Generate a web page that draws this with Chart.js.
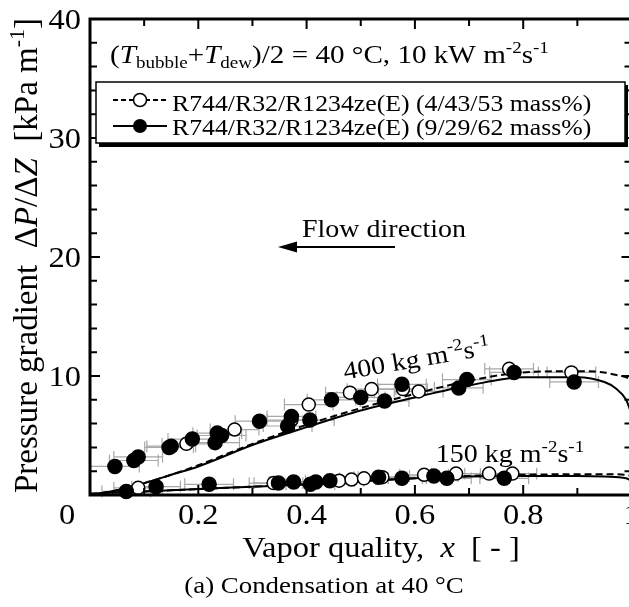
<!DOCTYPE html>
<html>
<head>
<meta charset="utf-8">
<script src="https://cdn.jsdelivr.net/npm/chart.js@4.4.1/dist/chart.umd.min.js"></script>
<style>
  html, body { margin: 0; padding: 0; background: #fff; overflow: hidden; }
  #wrap { position: relative; width: 640px; height: 607px; }
  #probe { position: absolute; left: -999px; top: 0; font-family: 'Liberation Serif'; font-size: 20px; }
  #probe i { font-style: italic; }
</style>
</head>
<body>
<div id="probe">Flow <i>x</i></div>
<div id="wrap"><canvas id="dpChart"></canvas></div>
<script>
// Assi e tacche
const X_TICKS = [0.2, 0.4, 0.6, 0.8, 1];
const Y_TICKS = [10, 20, 30, 40];

// Curve di previsione (x comune)
const LINE400_X = [0, 0.05, 0.1, 0.15, 0.2, 0.3, 0.4, 0.5, 0.6, 0.7, 0.8, 0.9, 0.95, 0.97, 0.99, 1.0];
const SOLID400_Y = [0, 0.4, 1.0, 1.7, 2.4, 4.2, 5.7, 7.1, 8.2, 9.2, 9.9, 9.9, 9.5, 9.0, 8.0, 6.8];
const DASHED400_Y = [0, 0.4, 1.0, 1.7, 2.5, 4.3, 5.9, 7.3, 8.5, 9.6, 10.3, 10.4, 10.3, 10.1, 9.9, 9.7];

const LINE150_X = [0, 0.05, 0.1, 0.2, 0.3, 0.4, 0.5, 0.6, 0.7, 0.8, 0.9, 0.95, 0.99, 1.0];
const SOLID150_Y = [0.1, 0.2, 0.3, 0.5, 0.7, 0.9, 1.15, 1.4, 1.55, 1.6, 1.6, 1.55, 1.4, 1.2];
const DASHED150_Y = [0.1, 0.2, 0.3, 0.5, 0.7, 0.9, 1.15, 1.4, 1.6, 1.7, 1.75, 1.75, 1.7, 1.6];

// Dati sperimentali: (4/43/53) cerchi vuoti, (9/29/62) cerchi pieni
const OPEN400_X = [0.178, 0.267, 0.372, 0.404, 0.48, 0.52, 0.578, 0.607, 0.774, 0.889];
const OPEN400_Y = [4.3, 5.5, 6.3, 7.6, 8.6, 8.9, 8.9, 8.7, 10.6, 10.3];
const FILLED400_X = [0.046, 0.081, 0.089, 0.146, 0.15, 0.189, 0.231, 0.235, 0.243, 0.313, 0.365, 0.372, 0.406, 0.446, 0.5, 0.544, 0.576, 0.681, 0.696, 0.783, 0.894];
const FILLED400_Y = [2.4, 2.9, 3.2, 4.0, 4.1, 4.7, 4.4, 5.2, 5.0, 6.2, 5.8, 6.6, 6.3, 8.0, 8.2, 7.9, 9.3, 9.0, 9.7, 10.3, 9.5];

const OPEN150_X = [0.089, 0.339, 0.46, 0.483, 0.506, 0.54, 0.617, 0.676, 0.737, 0.78];
const OPEN150_Y = [0.6, 1.0, 1.2, 1.3, 1.4, 1.5, 1.7, 1.8, 1.8, 1.8];
const FILLED150_X = [0.067, 0.122, 0.22, 0.348, 0.376, 0.407, 0.417, 0.443, 0.533, 0.576, 0.635, 0.659, 0.765];
const FILLED150_Y = [0.3, 0.7, 0.9, 1.0, 1.1, 0.9, 1.1, 1.2, 1.5, 1.4, 1.6, 1.4, 1.4];

// Incertezza di misura
const X_ERR = 0.045;
const Y_ERR = 0.5;

const FONT = "'Liberation Serif', 'Times New Roman', Times, serif";
const SX = 1.12; // la figura originale e' leggermente allargata in orizzontale

function toPoints(xs, ys) {
    return xs.map((x, i) => ({ x: x, y: ys[i] }));
}

function fontOf(size, italic) {
    return (italic ? 'italic ' : '') + Math.round(size) + 'px ' + FONT;
}

/**
 * Disegna un testo con pedici/apici
 */
function drawRich(ctx, segs, x, y, size, opt) {
    opt = opt || {};
    ctx.save();
    ctx.translate(x, y);
    if (opt.angle) ctx.rotate(opt.angle);
    ctx.scale(opt.sx || SX, opt.sy || 1);
    let w = 0;
    segs.forEach(s => {
        ctx.font = fontOf(s.sub || s.sup ? size * 0.68 : size, s.it);
        w += ctx.measureText(s.t).width;
    });
    let cx = opt.align === 'center' ? -w / 2 : opt.align === 'right' ? -w : 0;
    ctx.fillStyle = '#000';
    ctx.textAlign = 'left';
    ctx.textBaseline = 'alphabetic';
    segs.forEach(s => {
        ctx.font = fontOf(s.sub || s.sup ? size * 0.68 : size, s.it);
        const dy = s.sub ? size * 0.2 : s.sup ? -size * 0.4 : 0;
        ctx.fillText(s.t, cx, dy);
        cx += ctx.measureText(s.t).width;
    });
    ctx.restore();
}

// Barre d'errore grigie sotto i punti
const errorBars = {
    id: 'errorBars',
    beforeDatasetsDraw(chart) {
        const ctx = chart.ctx;
        const xs = chart.scales.x, ys = chart.scales.y;
        ctx.save();
        ctx.strokeStyle = '#a8a8a8';
        ctx.lineWidth = 1.2;
        chart.data.datasets.forEach(ds => {
            if (!ds.errorBars) return;
            ds.data.forEach(p => {
                const px = xs.getPixelForValue(p.x), py = ys.getPixelForValue(p.y);
                const x1 = xs.getPixelForValue(p.x - X_ERR), x2 = xs.getPixelForValue(p.x + X_ERR);
                const y1 = ys.getPixelForValue(p.y - Y_ERR), y2 = ys.getPixelForValue(p.y + Y_ERR);
                ctx.beginPath();
                ctx.moveTo(x1, py); ctx.lineTo(x2, py);
                ctx.moveTo(px, y1); ctx.lineTo(px, y2);
                ctx.moveTo(x1, y1); ctx.lineTo(x1, y2);
                ctx.moveTo(x2, y1); ctx.lineTo(x2, y2);
                ctx.stroke();
            });
        });
        ctx.restore();
    }
};

// Cornice, tacche interne, etichette e annotazioni
const decorations = {
    id: 'decorations',
    afterDraw(chart) {
        const ctx = chart.ctx;
        const xs = chart.scales.x, ys = chart.scales.y;
        const a = chart.chartArea;
        ctx.save();
        ctx.strokeStyle = '#000';
        ctx.fillStyle = '#000';

        // tacche
        ctx.lineWidth = 2;
        ctx.beginPath();
        for (let k = 1; k < 10; k++) {
            const px = xs.getPixelForValue(k / 10);
            const len = k % 2 === 0 ? 10 : 7;
            ctx.moveTo(px, a.bottom); ctx.lineTo(px, a.bottom - len);
            ctx.moveTo(px, a.top); ctx.lineTo(px, a.top + len);
        }
        for (let v = 2; v < 40; v += 2) {
            const py = ys.getPixelForValue(v);
            const len = v % 10 === 0 ? 10 : 7;
            ctx.moveTo(a.left, py); ctx.lineTo(a.left + len, py);
            ctx.moveTo(a.right, py); ctx.lineTo(a.right - len, py);
        }
        ctx.stroke();

        // cornice
        ctx.lineWidth = 3;
        ctx.strokeRect(a.left, a.top, a.right - a.left, a.bottom - a.top);

        // etichette delle tacche
        X_TICKS.forEach(v => {
            drawRich(ctx, [{ t: String(v) }], xs.getPixelForValue(v), a.bottom + 29, 29, { align: 'center' });
        });
        drawRich(ctx, [{ t: '0' }], xs.getPixelForValue(0) - 23, a.bottom + 29, 29, { align: 'center' });
        Y_TICKS.forEach(v => {
            drawRich(ctx, [{ t: String(v) }], a.left - 9, ys.getPixelForValue(v) + 10, 29, { align: 'right' });
        });

        // titoli degli assi
        drawRich(ctx, [
            { t: 'Vapor quality,  ' }, { t: 'x', it: true }, { t: '  [ - ]' }
        ], 381, 557, 29, { align: 'center' });
        drawRich(ctx, [
            { t: 'Pressure gradient  \u0394' }, { t: 'P', it: true }, { t: '/\u0394' }, { t: 'Z', it: true },
            { t: '  [kPa m' }, { t: '-1', sup: true }, { t: ']' }
        ], 37, 493, 33, { angle: -Math.PI / 2, sx: 1, sy: 1 });
        drawRich(ctx, [{ t: '(a) Condensation at 40 \u00b0C' }], 324, 593, 23.5, { align: 'center' });

        // intestazione
        drawRich(ctx, [
            { t: '(' }, { t: 'T', it: true }, { t: 'bubble', sub: true }, { t: '+' },
            { t: 'T', it: true }, { t: 'dew', sub: true },
            { t: ')/2 = 40 \u00b0C, 10 kW m' }, { t: '-2', sup: true }, { t: 's' }, { t: '-1', sup: true }
        ], 110, 63, 25.5);

        // legenda
        ctx.fillRect(99, 85, 529, 62);
        ctx.fillStyle = '#fff';
        ctx.fillRect(96, 82, 529, 61);
        ctx.lineWidth = 1.5;
        ctx.strokeRect(96, 82, 529, 61);
        ctx.lineWidth = 1.8;
        ctx.setLineDash([5, 3]);
        ctx.beginPath(); ctx.moveTo(113, 100); ctx.lineTo(167, 100); ctx.stroke();
        ctx.setLineDash([]);
        ctx.beginPath(); ctx.moveTo(113, 126); ctx.lineTo(167, 126); ctx.stroke();
        ctx.lineWidth = 1.5;
        ctx.fillStyle = '#fff';
        ctx.beginPath(); ctx.arc(140, 100, 6.5, 0, Math.PI * 2); ctx.fill(); ctx.stroke();
        ctx.fillStyle = '#000';
        ctx.beginPath(); ctx.arc(140, 126, 7, 0, Math.PI * 2); ctx.fill();
        drawRich(ctx, [{ t: 'R744/R32/R1234ze(E) (4/43/53 mass%)' }], 172, 111, 23);
        drawRich(ctx, [{ t: 'R744/R32/R1234ze(E) (9/29/62 mass%)' }], 172, 135, 23);

        // direzione del flusso
        drawRich(ctx, [{ t: 'Flow direction' }], 302, 237, 25);
        ctx.lineWidth = 1.8;
        ctx.beginPath(); ctx.moveTo(294, 247); ctx.lineTo(395, 247); ctx.stroke();
        ctx.beginPath();
        ctx.moveTo(278, 247); ctx.lineTo(297, 241.5); ctx.lineTo(297, 252.5); ctx.closePath();
        ctx.fill();

        // etichette delle curve
        drawRich(ctx, [
            { t: '400 kg m' }, { t: '-2', sup: true }, { t: 's' }, { t: '-1', sup: true }
        ], 418, 367, 24.5, { align: 'center', angle: -0.17 });
        drawRich(ctx, [
            { t: '150 kg m' }, { t: '-2', sup: true }, { t: 's' }, { t: '-1', sup: true }
        ], 510, 462, 25, { align: 'center' });

        ctx.restore();
    }
};

function lineSet(xs, ys, dashed) {
    return {
        type: 'line',
        data: toPoints(xs, ys),
        borderColor: '#000',
        borderWidth: 2,
        borderDash: dashed ? [7, 4] : [],
        pointRadius: 0,
        fill: false,
        cubicInterpolationMode: 'monotone',
        order: 3
    };
}

function pointSet(xs, ys, filled) {
    return {
        type: 'scatter',
        data: toPoints(xs, ys),
        backgroundColor: filled ? '#000' : '#fff',
        borderColor: '#000',
        borderWidth: 1.5,
        pointRadius: filled ? 7 : 6.5,
        errorBars: true,
        clip: false,
        order: filled ? 1 : 2
    };
}

function createChart() {
    new Chart(document.getElementById('dpChart'), {
        data: {
            datasets: [
                lineSet(LINE400_X, DASHED400_Y, true),
                lineSet(LINE400_X, SOLID400_Y, false),
                lineSet(LINE150_X, DASHED150_Y, true),
                lineSet(LINE150_X, SOLID150_Y, false),
                pointSet(OPEN400_X, OPEN400_Y, false),
                pointSet(OPEN150_X, OPEN150_Y, false),
                pointSet(FILLED400_X, FILLED400_Y, true),
                pointSet(FILLED150_X, FILLED150_Y, true)
            ]
        },
        options: {
            responsive: true,
            maintainAspectRatio: false,
            devicePixelRatio: 1,
            animation: false,
            layout: { padding: { left: 90, top: 19, right: 8, bottom: 112 } },
            scales: {
                x: { type: 'linear', min: 0, max: 1, display: false },
                y: { type: 'linear', min: 0, max: 40, display: false }
            },
            plugins: {
                legend: { display: false },
                tooltip: { enabled: false }
            }
        },
        plugins: [errorBars, decorations]
    });
}

// Attende il caricamento del font prima di disegnare
Promise.all([
    document.fonts.load("20px 'Liberation Serif'"),
    document.fonts.load("italic 20px 'Liberation Serif'")
]).then(createChart, createChart);
</script>
</body>
</html>
